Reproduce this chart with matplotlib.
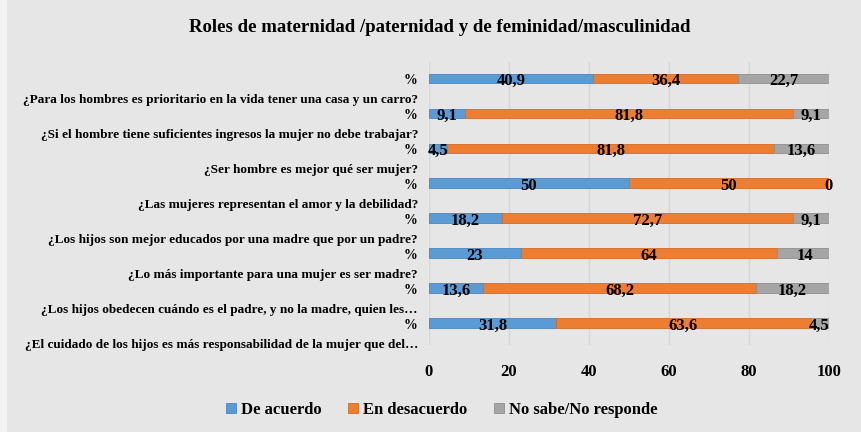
import matplotlib
matplotlib.use('Agg')
import matplotlib.pyplot as plt
import numpy as np

# data, top to bottom as in the reference
preguntas = [
    '¿Para los hombres es prioritario en la vida tener una casa y un carro?',
    '¿Si el hombre tiene suficientes ingresos la mujer no debe trabajar?',
    '¿Ser hombre es mejor qué ser mujer?',
    '¿Las mujeres representan el amor y la debilidad?',
    '¿Los hijos son mejor educados por una madre que por un padre?',
    '¿Lo más importante para una mujer es ser madre?',
    '¿Los hijos obedecen cuándo es el padre, y no la madre, quien les…',
    '¿El cuidado de los hijos es más responsabilidad de la mujer que del…',
]
de_acuerdo = [40.9, 9.1, 4.5, 50, 18.2, 23, 13.6, 31.8]
en_desacuerdo = [36.4, 81.8, 81.8, 50, 72.7, 64, 68.2, 63.6]
no_sabe = [22.7, 9.1, 13.6, 0, 9.1, 14, 18.2, 4.5]
series_names = ['De acuerdo', 'En desacuerdo', 'No sabe/No responde']
colores = ['#5B9BD5', '#ED7D31', '#A5A5A5']
bordes = ['#4a86bd', '#d46a22', '#8f8f8f']
x_ticks = [0, 20, 40, 60, 80, 100]

plt.rcParams['font.family'] = ['Liberation Serif', 'DejaVu Serif']
plt.rcParams['font.weight'] = 'bold'

bg = '#e6e6e6'
fig = plt.figure(figsize=(8.62, 4.32), dpi=100, facecolor=bg)
fig.patches.append(plt.Rectangle((0, 0), 7 / 862, 1, transform=fig.transFigure,
                                 facecolor='#f2f2f2', edgecolor='none', zorder=-1))
ax = fig.add_axes([429 / 862, 1 - 345 / 432, 400 / 862, 283 / 432])
ax.set_facecolor(bg)

n = len(preguntas)
y = np.arange(n)[::-1]
izq = np.zeros(n)
for vals, nombre, col, ec in zip([de_acuerdo, en_desacuerdo, no_sabe], series_names, colores, bordes):
    vals = np.array(vals, dtype=float)
    ax.barh(y, vals, left=izq, height=0.26, color=col, edgecolor=ec, linewidth=0.6,
            label=nombre, zorder=3)
    for yi, l, v in zip(y, izq, vals):
        txt = ('%g' % v).replace('.', ',')
        xc = l + v / 2 if v > 0 else l
        ax.annotate(txt, (xc, yi), xytext=(0, -2), textcoords='offset points',
                    ha='center', va='center', fontsize=12, fontweight='bold', zorder=5)
    izq = izq + vals

ax.set_xlim(0, 100)
ax.set_ylim(-0.63, n - 1 + 0.46)
ax.set_xticks(x_ticks)
ax.set_xticklabels([str(t) for t in x_ticks], fontsize=12, fontweight='bold')
ax.tick_params(axis='x', length=0, pad=14)
ax.set_yticks([])
ax.grid(axis='x', color='#d6d6d6', linewidth=1, zorder=0)
for s in ax.spines.values():
    s.set_visible(False)

for yi, q in zip(y, preguntas):
    ax.annotate('%', (0, yi), xycoords=('axes fraction', 'data'), xytext=(-8.6, -1.5),
                textcoords='offset points', ha='right', va='center', fontsize=10,
                fontweight='bold')
    ax.annotate(q, (0, yi), xycoords=('axes fraction', 'data'), xytext=(-8, -16),
                textcoords='offset points', ha='right', va='center', fontsize=9.5,
                fontweight='bold')

fig.text(440 / 862, 1 - 28 / 432, 'Roles de maternidad /paternidad y de feminidad/masculinidad',
         ha='center', va='center', fontsize=13.5, fontweight='bold')

fig.legend(*ax.get_legend_handles_labels(), loc='center', bbox_to_anchor=(442 / 862, 1 - 410 / 432),
           ncol=3, frameon=False, handlelength=0.6, handleheight=0.6,
           handletextpad=0.3, columnspacing=1.6, prop={'weight': 'bold', 'size': 12})

fig.savefig('out.png', dpi=100, facecolor=bg)
